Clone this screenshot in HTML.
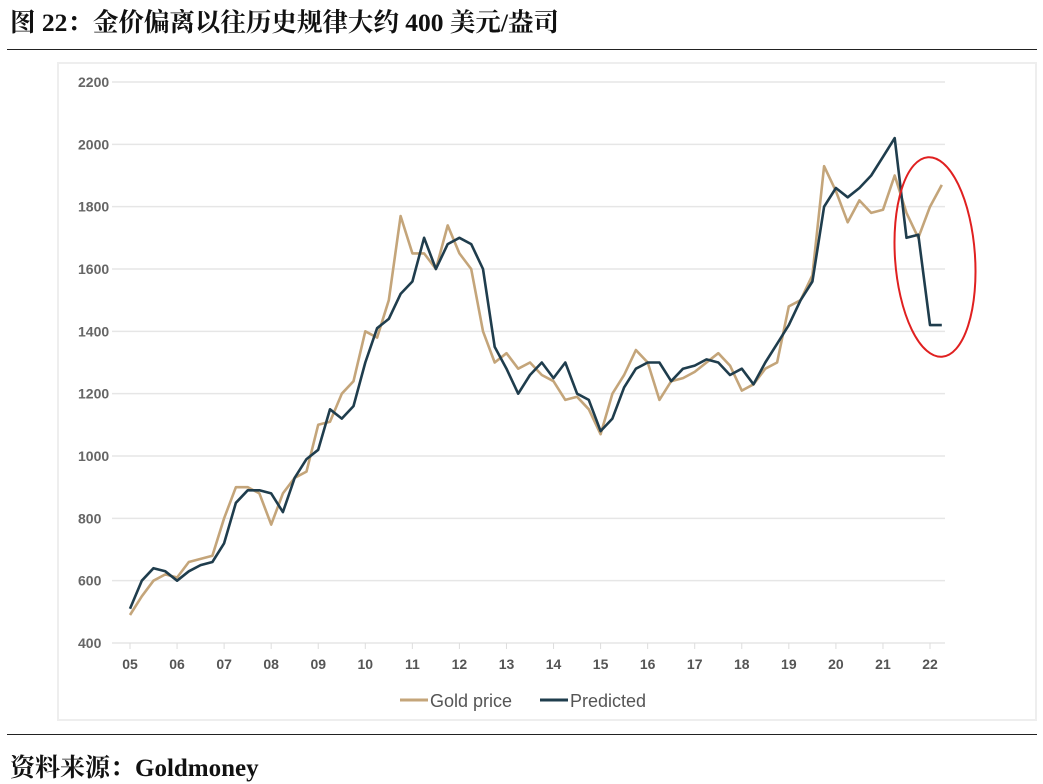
<!DOCTYPE html>
<html><head><meta charset="utf-8">
<style>
body{margin:0;width:1043px;height:780px;background:#fff;position:relative;overflow:hidden;font-family:"Liberation Serif","Noto Serif CJK SC",serif;}
#title{position:absolute;left:10px;top:3px;font-size:25.5px;font-weight:bold;color:#111;}
#rule1{position:absolute;left:7px;top:49px;width:1030px;height:1px;background:#222;}
#rule2{position:absolute;left:7px;top:734px;width:1030px;height:1px;background:#222;}
#src{position:absolute;left:10px;top:748px;font-size:25px;font-weight:bold;color:#111;}
#chart{position:absolute;left:0;top:0;}
</style></head><body>
<div id="title">图 22：金价偏离以往历史规律大约 400 美元/盎司</div>
<div id="rule1"></div>
<svg id="chart" width="1043" height="780"></svg>
<div id="rule2"></div>
<div id="src">资料来源：Goldmoney</div>
<script>
const yTicks=[400,600,800,1000,1200,1400,1600,1800,2000,2200];
const xLabels=["05","06","07","08","09","10","11","12","13","14","15","16","17","18","19","20","21","22"];
const startYear=2005, step=0.25;
const gold=[490,550,600,620,610,660,670,680,800,900,900,880,780,880,930,950,1100,1110,1200,1240,1400,1380,1500,1770,1650,1650,1600,1740,1650,1600,1400,1300,1330,1280,1300,1260,1240,1180,1190,1150,1070,1200,1260,1340,1300,1180,1240,1250,1270,1300,1330,1290,1210,1230,1280,1300,1480,1500,1580,1930,1850,1750,1820,1780,1790,1900,1780,1700,1800,1870];
const predicted=[510,600,640,630,600,630,650,660,720,850,890,890,880,820,930,990,1020,1150,1120,1160,1300,1410,1440,1520,1560,1700,1600,1680,1700,1680,1600,1350,1280,1200,1260,1300,1250,1300,1200,1180,1080,1120,1220,1280,1300,1300,1240,1280,1290,1310,1300,1260,1280,1230,1300,1360,1420,1500,1560,1800,1860,1830,1860,1900,1960,2020,1700,1710,1420,1420];
const NS="http://www.w3.org/2000/svg";
const svg=document.getElementById('chart');
const X=t=>130+(t-2005)*47.06;
const Y=v=>643-(v-400)*(561/1800);
function mk(tag,attrs){const e=document.createElementNS(NS,tag);for(const k in attrs)e.setAttribute(k,attrs[k]);svg.appendChild(e);return e;}
const frame=mk('rect',{x:58,y:63,width:978,height:657,fill:'none',stroke:'#eee','stroke-width':2});


yTicks.forEach(v=>{
  const g=mk('line',{x1:112,x2:945,y1:Y(v),y2:Y(v),stroke:'#e6e6e6','stroke-width':1.5});
  
  
  const t=mk('text',{x:78,y:Y(v)+5,'font-family':'Liberation Sans, sans-serif','font-size':14,'font-weight':'bold',fill:'#666'});
  t.textContent=v;
  
  
});
xLabels.forEach((l,i)=>{
  const x=X(2005+i);
  const tk=mk('line',{x1:x,x2:x,y1:643,y2:649,stroke:'#ddd','stroke-width':1});
  
  
  const t=mk('text',{x:x,y:669,'text-anchor':'middle','font-family':'Liberation Sans, sans-serif','font-size':14,'font-weight':'bold',fill:'#555'});
  t.textContent=l;
  
  
});
function series(arr,color,name){
  const pts=arr.map((v,i)=>X(startYear+i*step).toFixed(1)+','+Y(v).toFixed(1)).join(' ');
  const p=mk('polyline',{points:pts,fill:'none',stroke:color,'stroke-width':2.6,'stroke-linejoin':'round'});
  
  
}
series(gold,'#c4a57a','gold-price-line');
series(predicted,'#1f3d4d','predicted-line');
const el=mk('ellipse',{cx:935,cy:257,rx:40,ry:100,fill:'none',stroke:'#e02020','stroke-width':2,transform:'rotate(-4 935 257)'});


[['Gold price','#c4a57a',400],['Predicted','#1f3d4d',540]].forEach(([lab,c,x])=>{
  const l=mk('line',{x1:x,x2:x+28,y1:700,y2:700,stroke:c,'stroke-width':3});
  
  
  const t=mk('text',{x:x+30,y:707,'font-family':'Liberation Sans, sans-serif','font-size':18,fill:'#555'});
  t.textContent=lab;
  
  
});
</script>
</body></html>
